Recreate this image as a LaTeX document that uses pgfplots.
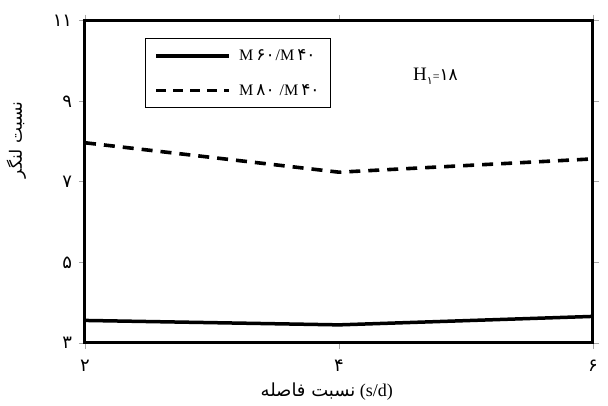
\documentclass[border=0pt]{standalone}
\usepackage{fontspec}
\setmainfont{Liberation Serif}
\newfontfamily\fa[Script=Arabic]{DejaVu Sans}
\TeXXeTstate=1
\usepackage{pgfplots}
\pgfplotsset{compat=1.18}

% Persian digits a little larger than the Latin text beside them
\newcommand{\pd}[1]{{\fa\fontsize{17}{17}\selectfont #1}}

\begin{document}
\begin{tikzpicture}
% fixed page frame around the axis box
\path[use as bounding box] (-85pt,-63pt) rectangle (523pt,343pt);
\begin{axis}[
  at={(0pt,0pt)}, anchor=south west,
  width=508pt, height=322.3pt, scale only axis,
  xmin=2, xmax=6, ymin=3, ymax=11,
  xtick={2,4,6}, ytick={3,5,7,9,11},
  xticklabels={{\fa ۲},{\fa ۴},{\fa ۶}},
  yticklabels={{\fa ۳},{\fa ۵},{\fa ۷},{\fa ۹},{\fa ۱۱}},
  every axis/.append style={line width=3pt},
  tick align=outside, major tick length=6pt,
  tick style={gray!70, line width=0.8pt},
  xticklabel style={font=\fontsize{18}{18}\selectfont, yshift=-6pt},
  yticklabel style={font=\fontsize{18}{18}\selectfont, xshift=-2pt},
  xlabel={{\fa\beginR نسبت فاصله\endR} (s/d)},
  xlabel style={at={(axis description cs:0.476,0)}, anchor=center, yshift=-49pt,
    font=\fontsize{18}{18}\selectfont},
  ylabel={\fa\beginR نسبت لنگر\endR},
  ylabel style={at={(axis description cs:-0.135,0.63)}, anchor=center,
    font=\fontsize{17}{17}\selectfont},
  legend cell align=left,
  legend style={at={(axis description cs:0.118,0.946)}, anchor=north west,
    draw=black, line width=1.3pt, font=\fontsize{16}{18}\selectfont,
    row sep=18pt, column sep=6pt, inner xsep=9pt, inner ysep=9pt},
  clip=false,
]
\addplot[black, line width=3.5pt,
  legend image code/.code={\draw[black, line width=3.5pt] (0pt,0pt) -- (73pt,0pt);}]
  coordinates {(2,3.56) (4,3.45) (6,3.66)};
\addlegendentry{M\hspace{3pt}\pd{۶۰}\hspace{1pt}/M\hspace{3pt}\pd{۴۰}\hspace{10pt}}
\addplot[black, line width=3.6pt, dash pattern=on 11pt off 8pt,
  legend image code/.code={\draw[black, line width=3.6pt, dash pattern=on 10pt off 7pt] (0pt,0pt) -- (73pt,0pt);}]
  coordinates {(2,7.97) (4,7.24) (6,7.57)};
\addlegendentry{M\hspace{3pt}\pd{۸۰}\hspace{5pt}/M\hspace{3pt}\pd{۴۰}}
\node[anchor=center, font=\fontsize{19}{19}\selectfont] at (axis cs:4.76,9.62)
  {H\raisebox{-4pt}{\fontsize{11}{11}\selectfont\fa ۱}{\fontsize{12}{12}\selectfont=}{\fa\fontsize{17}{17}\selectfont ۱۸}};
\end{axis}
\end{tikzpicture}
\end{document}
